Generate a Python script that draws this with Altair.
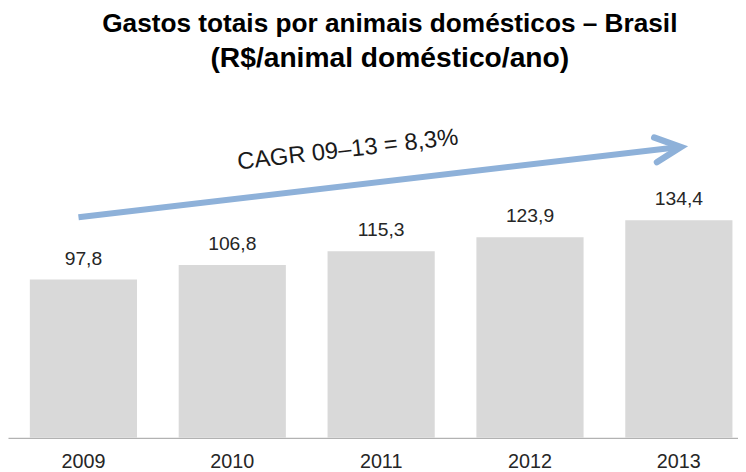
import altair as alt
import pandas as pd

years = ["2009", "2010", "2011", "2012", "2013"]
values = [97.8, 106.8, 115.3, 123.9, 134.4]
labels = ["97,8", "106,8", "115,3", "123,9", "134,4"]

title_line1 = "Gastos totais por animais domésticos – Brasil"
title_line2 = "(R$/animal doméstico/ano)"

arrow_from_year = ["2009"]
arrow_to_year = ["2013"]
arrow_from_value = [136.3]
arrow_to_value = [179.7]

cagr_label = ["CAGR 09–13 = 8,3%"]
cagr_year = ["2011"]
cagr_value = [173.6]

FONT = "Liberation Sans"
ARROW = "#8eb1d9"

xscale = alt.Scale(domain=years, paddingInner=0.28, paddingOuter=0.092, align=0.797)
yscale = alt.Scale(domain=[0, 207.8], nice=False, zero=True)

bars_df = pd.DataFrame({"year": years, "value": values, "label": labels})
base = alt.Chart(bars_df)

bars = base.mark_bar(color="#d9d9d9").encode(
    x=alt.X("year:N", scale=xscale, sort=years,
            axis=alt.Axis(title=None, labelAngle=0, ticks=False, grid=False,
                          domainColor="#a0a0a0", domainWidth=1,
                          labelFont=FONT, labelFontSize=20, labelColor="#262626",
                          labelPadding=14)),
    y=alt.Y("value:Q", scale=yscale, axis=None),
)

vals = base.mark_text(font=FONT, fontSize=19.5, color="#262626",
                      baseline="alphabetic", dy=-15).encode(
    x=alt.X("year:N", scale=xscale, sort=years),
    y=alt.Y("value:Q", scale=yscale),
    text="label:N",
)

arrow_df = pd.DataFrame({"x": arrow_from_year, "x2": arrow_to_year,
                         "y": arrow_from_value, "y2": arrow_to_value})
line = alt.Chart(arrow_df).mark_rule(color=ARROW, strokeWidth=6, xOffset=-5, x2Offset=1).encode(
    x=alt.X("x:N", scale=xscale, sort=years),
    x2="x2:N",
    y=alt.Y("y:Q", scale=yscale),
    y2="y2:Q",
)

head_df = pd.DataFrame({"x": arrow_to_year, "y": arrow_to_value})
head = alt.Chart(head_df).mark_point(
    shape="M-0.9,-0.44L0,0L-0.9,0.44", filled=False, size=3249, strokeWidth=6.5,
    color=ARROW, opacity=1, angle=353.6, strokeCap="round", strokeJoin="miter",
    xOffset=2,
).encode(
    x=alt.X("x:N", scale=xscale, sort=years),
    y=alt.Y("y:Q", scale=yscale),
)

cagr_df = pd.DataFrame({"x": cagr_year, "y": cagr_value, "t": cagr_label})
cagr = alt.Chart(cagr_df).mark_text(
    font=FONT, fontSize=24, color="#1a1a1a", angle=353.5, align="center",
    baseline="alphabetic", xOffset=-33,
).encode(
    x=alt.X("x:N", scale=xscale, sort=years),
    y=alt.Y("y:Q", scale=yscale),
    text="t:N",
)

chart = alt.layer(bars, vals, line, head, cagr).properties(
    width=738,
    height=340,
    autosize=alt.AutoSizeParams(type="none"),
    padding={"left": 0, "top": 92, "right": 0, "bottom": 32},
    title=alt.TitleParams(text=title_line1, subtitle=title_line2,
                          font=FONT, fontSize=26.5, fontWeight="bold", color="#000000",
                          subtitleFont=FONT, subtitleFontSize=28.5, subtitleFontWeight="bold",
                          subtitleColor="#000000", subtitlePadding=7,
                          anchor="middle", dx=17, offset=29),
).configure_view(stroke=None)

chart.save("out.html", embed_options={"renderer": "svg", "actions": False})
